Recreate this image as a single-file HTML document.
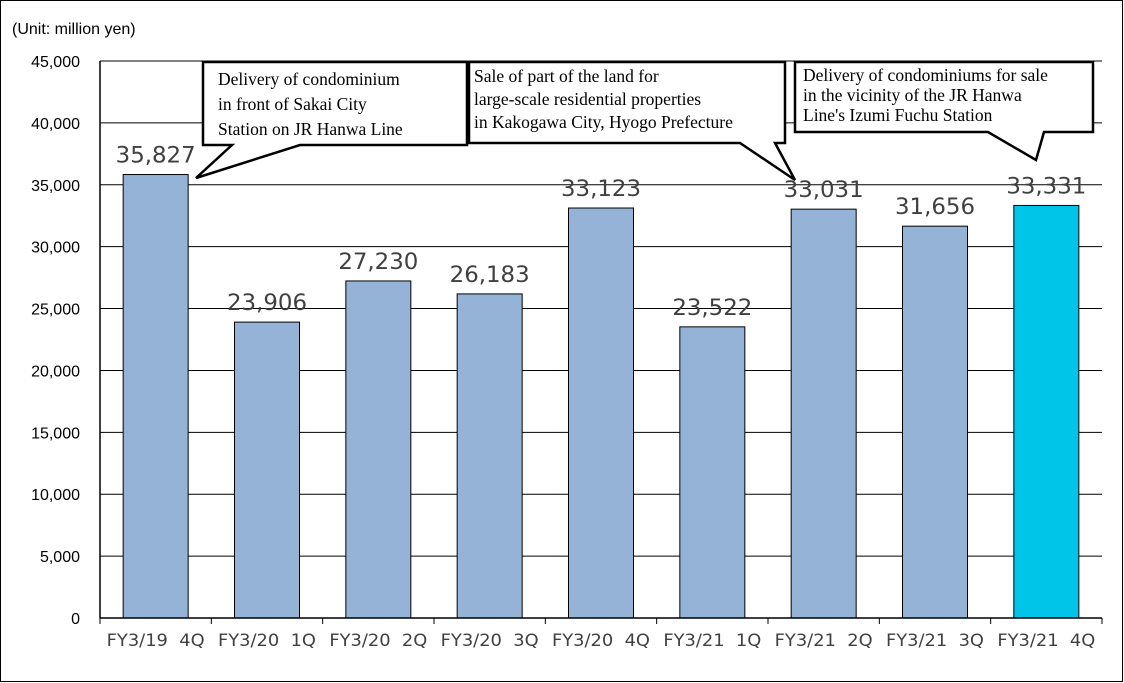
<!DOCTYPE html>
<html><head><meta charset="utf-8"><style>
html,body{margin:0;padding:0;background:#fff;}
svg{display:block;}
</style></head><body>
<svg id="chart" width="1124" height="683" xmlns="http://www.w3.org/2000/svg" font-family="'Liberation Sans', sans-serif">
<rect x="0.5" y="0.5" width="1122" height="681" fill="#fff" stroke="#000" stroke-width="1"/>
<text x="12" y="34" font-size="16" fill="#000">(Unit: million yen)</text>
<g id="grid"></g>
<g id="bars"></g>
<g id="axes"></g>
<g id="callouts" font-family="'Liberation Serif', serif" font-size="17.5">
  <g>
    <polygon points="203,62 467,62 467,145 300,145 196,178 232,145 203,145" fill="#fff" stroke="#000" stroke-width="2.5"/>
    <text x="218" y="85">Delivery of condominium</text>
    <text x="218" y="110">in front of Sakai City</text>
    <text x="218" y="135">Station on JR Hanwa Line</text>
  </g>
  <g>
    <polygon points="469,62 785,62 785,143 775,143 795,180 740,143 469,143" fill="#fff" stroke="#000" stroke-width="2.5"/>
    <text x="474" y="82">Sale of part of the land for</text>
    <text x="474" y="105">large-scale residential properties</text>
    <text x="474" y="128">in Kakogawa City, Hyogo Prefecture</text>
  </g>
  <g>
    <polygon points="795,62 1093,62 1093,132 1044,132 1036,160 988,132 795,132" fill="#fff" stroke="#000" stroke-width="2.5"/>
    <text x="803" y="81">Delivery of condominiums  for sale</text>
    <text x="803" y="101">in the vicinity of the JR Hanwa</text>
    <text x="803" y="121">Line's Izumi  Fuchu Station</text>
  </g>
</g>
</svg>
<script>
const categories = ["FY3/19 4Q","FY3/20 1Q","FY3/20 2Q","FY3/20 3Q","FY3/20 4Q","FY3/21 1Q","FY3/21 2Q","FY3/21 3Q","FY3/21 4Q"];
const values = [35827,23906,27230,26183,33123,23522,33031,31656,33331];
const valueLabels = ["35,827","23,906","27,230","26,183","33,123","23,522","33,031","31,656","33,331"];
const yTicks = [0,5000,10000,15000,20000,25000,30000,35000,40000,45000];
const yTickLabels = ["0","5,000","10,000","15,000","20,000","25,000","30,000","35,000","40,000","45,000"];

const NS = "http://www.w3.org/2000/svg";
const X0 = 100, X1 = 1102, Y0 = 618, Y1 = 61, YMAX = 45000;
const bw = (X1 - X0) / categories.length;
const y = v => Y0 - (v / YMAX) * (Y0 - Y1);
const xc = i => X0 + bw * (i + 0.5);
function mk(tag, attrs, parent, txt){
  const e = document.createElementNS(NS, tag);
  for (const k in attrs) e.setAttribute(k, attrs[k]);
  if (txt !== undefined) e.textContent = txt;
  parent.appendChild(e);
  return e;
}
const grid = document.getElementById('grid');
const bars = document.getElementById('bars');
const axes = document.getElementById('axes');
yTicks.forEach((t, i) => {
  if (t > 0) {
    const l = mk('line', {x1: X0, x2: X1, y1: y(t), y2: y(t), stroke: '#000', 'stroke-width': 1}, grid);
    
    
  }
  const tl = mk('text', {x: 80, y: y(t) + 6, 'text-anchor': 'end', 'font-size': 16, fill: '#000'}, axes, yTickLabels[i]);
  
  
});
values.forEach((v, i) => {
  const last = i === values.length - 1;
  const r = mk('rect', {x: xc(i) - 32.5, y: y(v), width: 65, height: Y0 - y(v), fill: last ? '#00c4e8' : '#95b3d7', stroke: '#000', 'stroke-width': 1}, bars);
  
  
  const t = mk('text', {x: xc(i), y: y(v) - 12, 'text-anchor': 'middle', 'font-size': 22, fill: '#404040', 'font-family': "'DejaVu Sans Condensed','Liberation Sans',sans-serif", 'textLength': 80, 'lengthAdjust': 'spacingAndGlyphs'}, bars, valueLabels[i]);
  
  
  const c = mk('text', {x: xc(i), y: 646, 'text-anchor': 'middle', 'font-size': 17, fill: '#404040', 'font-family': "'DejaVu Sans Condensed','Liberation Sans',sans-serif", 'textLength': 98, 'lengthAdjust': 'spacingAndGlyphs'}, axes, categories[i].replace(' ', '\u00a0\u00a0'));
  
  
});
for (let i = 0; i <= categories.length; i++) {
  const tk = mk('line', {x1: X0 + bw * i, x2: X0 + bw * i, y1: Y0, y2: Y0 + 6, stroke: '#000'}, axes);
  
  
}
const xa = mk('line', {x1: X0, x2: X1, y1: Y0, y2: Y0, stroke: '#000', 'stroke-width': 1.5}, axes);


const ya = mk('line', {x1: X0, x2: X0, y1: Y1, y2: Y0, stroke: '#000', 'stroke-width': 1.5}, axes);


</script>
</body></html>
